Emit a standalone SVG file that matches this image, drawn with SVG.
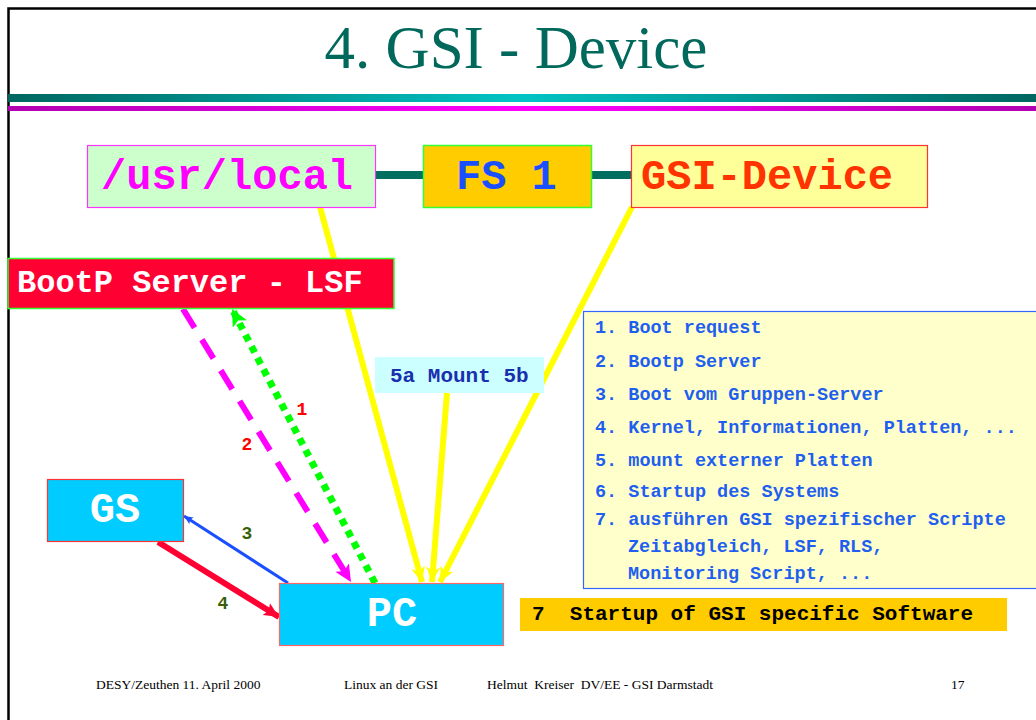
<svg xmlns="http://www.w3.org/2000/svg" width="1036" height="720" viewBox="0 0 1036 720">
<style>
.box{font-family:"Liberation Mono","Courier New",monospace;font-weight:bold}
.big{font-size:42px}
.list{font-family:"Liberation Mono","Courier New",monospace;font-weight:bold;font-size:18.5px;fill:#1f5fef}
.foot{font-family:"Liberation Serif","Times New Roman",serif;font-size:13.5px;fill:#000}
.num{font-family:"Liberation Mono","Courier New",monospace;font-weight:bold;font-size:18px}
</style>
<defs>
<linearGradient id="gTeal" x1="0" x2="1" y1="0" y2="0">
<stop offset="0" stop-color="#006660"/><stop offset="0.5" stop-color="#00c4c4"/><stop offset="1" stop-color="#006660"/>
</linearGradient>
<linearGradient id="gMag" x1="0" x2="1" y1="0" y2="0">
<stop offset="0" stop-color="#b000b0"/><stop offset="0.5" stop-color="#ff00ff"/><stop offset="1" stop-color="#b000b0"/>
</linearGradient>
<marker id="mY" markerUnits="userSpaceOnUse" markerWidth="16" markerHeight="14" refX="15" refY="7" orient="auto"><path d="M0,0 L15,7 L0,14 L4,7 Z" fill="#ffff00"/></marker>
<marker id="mM" markerUnits="userSpaceOnUse" markerWidth="18" markerHeight="16" refX="17" refY="8" orient="auto"><path d="M0,0 L17,8 L0,16 L4,8 Z" fill="#ff00ff"/></marker>
<marker id="mG" markerUnits="userSpaceOnUse" markerWidth="18" markerHeight="16" refX="17" refY="8" orient="auto"><path d="M0,0 L17,8 L0,16 L4,8 Z" fill="#00ff00"/></marker>
<marker id="mB" markerUnits="userSpaceOnUse" markerWidth="10" markerHeight="8" refX="9" refY="4" orient="auto"><path d="M0,0 L9,4 L0,8 L2,4 Z" fill="#1a4fff"/></marker>
<marker id="mR" markerUnits="userSpaceOnUse" markerWidth="16" markerHeight="14" refX="15" refY="7" orient="auto"><path d="M0,0 L15,7 L0,14 L3,7 Z" fill="#ff0033"/></marker>
</defs>
<rect width="1036" height="720" fill="#fff"/>
<path d="M8.5,720 V8.5 H1036" fill="none" stroke="#000" stroke-width="2.5"/>
<text x="516" y="68" text-anchor="middle" font-family="Liberation Serif, Times New Roman, serif" font-size="61" fill="#00695c">4. GSI - Device</text>
<rect x="8" y="94" width="1028" height="8" fill="url(#gTeal)"/>
<rect x="8" y="106" width="1028" height="5" fill="url(#gMag)"/>

<g id="connectors">
<line x1="376" y1="175" x2="423" y2="175" stroke="#006f60" stroke-width="8"/>
<line x1="592" y1="175" x2="631" y2="175" stroke="#006f60" stroke-width="8"/>
<line x1="320" y1="207" x2="422" y2="582" stroke="#ffff00" stroke-width="6" marker-end="url(#mY)"/>
<line x1="447" y1="393" x2="432" y2="582" stroke="#ffff00" stroke-width="6" marker-end="url(#mY)"/>
<line x1="632" y1="207" x2="440" y2="582" stroke="#ffff00" stroke-width="6" marker-end="url(#mY)"/>
<line x1="183" y1="309" x2="351" y2="582" stroke="#ff00ff" stroke-width="6" stroke-dasharray="22 14" marker-end="url(#mM)"/>
<line x1="375" y1="583" x2="232" y2="309" stroke="#00ff00" stroke-width="7" stroke-dasharray="7 6" marker-end="url(#mG)"/>
<line x1="288" y1="583" x2="184" y2="516" stroke="#1a4fff" stroke-width="3" marker-end="url(#mB)"/>
<line x1="158" y1="542" x2="279" y2="617" stroke="#ff0033" stroke-width="6" marker-end="url(#mR)"/>
<text class="num" x="302" y="415" text-anchor="middle" fill="#ff0000">1</text>
<text class="num" x="247" y="450" text-anchor="middle" fill="#ff0000">2</text>
<text class="num" x="247" y="539" text-anchor="middle" fill="#3a5f0b">3</text>
<text class="num" x="223" y="609" text-anchor="middle" fill="#3a5f0b">4</text>
</g>

<g id="usrlocal">
<rect x="87.5" y="145.5" width="288" height="62" fill="#ccffcc" stroke="#ff33ff" stroke-width="1.2"/>
<text class="box big" x="101" y="189" fill="#ff00ff">/usr/local</text>
</g>
<g id="fs1">
<rect x="423.5" y="145.5" width="168" height="62" fill="#ffcc00" stroke="#33ff33" stroke-width="1.5"/>
<text class="box big" x="456" y="189" fill="#1a4fff">FS 1</text>
</g>
<g id="gsidevice">
<rect x="631.5" y="145.5" width="296" height="62" fill="#ffff99" stroke="#ff3333" stroke-width="1.2"/>
<text class="box big" x="641" y="189" fill="#ff3300">GSI-Device</text>
</g>
<g id="bootp">
<rect x="8" y="258.5" width="386" height="50" fill="#ff0033" stroke="#33ff33" stroke-width="1.5"/>
<text class="box" x="17" y="292" font-size="32" fill="#ffffff">BootP Server - LSF</text>
</g>
<g id="mount">
<rect x="375" y="357" width="169" height="36" fill="#ccffff"/>
<text class="box" x="390" y="382" font-size="21" fill="#1a2fb0">5a Mount 5b</text>
</g>
<g id="gs">
<rect x="47.5" y="479.5" width="136" height="62" fill="#00ccff" stroke="#ff3333" stroke-width="1.2"/>
<text class="box big" x="115" y="522" text-anchor="middle" fill="#ffffff">GS</text>
</g>
<g id="pc">
<rect x="279.5" y="583.5" width="224" height="62" fill="#00ccff" stroke="#ff6666" stroke-width="1.2"/>
<text class="box big" x="392" y="626" text-anchor="middle" fill="#ffffff">PC</text>
</g>
<g id="steps">
<rect x="583.5" y="311.5" width="460" height="277" fill="#ffffcc" stroke="#3366ff" stroke-width="1.2"/>
<text class="list" x="595" y="333">1. Boot request</text>
<text class="list" x="595" y="367">2. Bootp Server</text>
<text class="list" x="595" y="400">3. Boot vom Gruppen-Server</text>
<text class="list" x="595" y="433">4. Kernel, Informationen, Platten, ...</text>
<text class="list" x="595" y="466">5. mount externer Platten</text>
<text class="list" x="595" y="497">6. Startup des Systems</text>
<text class="list" x="595" y="525">7. ausführen GSI spezifischer Scripte</text>
<text class="list" x="628" y="552">Zeitabgleich, LSF, RLS,</text>
<text class="list" x="628" y="579">Monitoring Script, ...</text>
</g>
<g id="startup">
<rect x="520" y="598" width="487" height="33" fill="#ffcc00"/>
<text class="box" x="532" y="620" font-size="21" fill="#000" xml:space="preserve">7  Startup of GSI specific Software</text>
</g>
<g id="footer">
<text class="foot" x="96" y="689">DESY/Zeuthen 11. April 2000</text>
<text class="foot" x="344" y="689">Linux an der GSI</text>
<text class="foot" x="487" y="689" xml:space="preserve">Helmut  Kreiser  DV/EE - GSI Darmstadt</text>
<text class="foot" x="951" y="689">17</text>
</g>
</svg>
